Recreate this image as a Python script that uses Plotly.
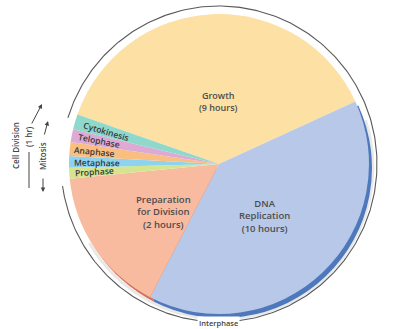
import numpy as np
import plotly.graph_objects as go

# ---- data ----
phases = ["Growth", "DNA Replication", "Preparation for Division",
          "Prophase", "Metaphase", "Anaphase", "Telophase", "Cytokinesis"]
label_text = ["Growth<br>(9 hours)", "DNA<br>Replication<br>(10 hours)",
              "Preparation<br>for Division<br>(2 hours)",
              "Prophase", "Metaphase", "Anaphase", "Telophase", "Cytokinesis"]
# apparent angular size of each slice as drawn (degrees)
slice_size = [136, 142, 57, 4.2, 4.5, 5.3, 5.0, 5.9]
slice_colors = ["#FDE0A3", "#B8C8E8", "#F8BBA0",
                "#D5E48E", "#8DD3F0", "#F9BF80", "#DDAAD6", "#8ED8CC"]
edge_colors = ["rgba(0,0,0,0)", "#4E78BC", "#D66E55",
               "rgba(0,0,0,0)", "rgba(0,0,0,0)", "rgba(0,0,0,0)",
               "rgba(0,0,0,0)", "rgba(0,0,0,0)"]

W, H = 394, 329
CX, CY, R = 219, 164, 150
START = 160.7  # math angle (deg) where the Growth slice begins


def px(x):
    return x / W


def py(y):
    return 1 - y / H


fig = go.Figure()

# outer ring (Interphase bracket) drawn on hidden pixel axes
RR = R + 8
t = np.radians(np.linspace(163, -172, 400))
fig.add_trace(go.Scatter(x=CX + RR * np.cos(t), y=CY - RR * np.sin(t), mode="lines",
                         line=dict(color="#5a5a5a", width=1.1), hoverinfo="skip",
                         showlegend=False))
t2 = np.radians(np.linspace(18, -150, 300))
fig.add_trace(go.Scatter(x=CX + 2 + (R + 2) * np.cos(t2), y=CY + 3 - (R + 2) * np.sin(t2),
                         mode="lines", line=dict(color="rgba(0,0,0,0.09)", width=3),
                         hoverinfo="skip", showlegend=False))

dom_main = dict(x=[px(CX - R), px(CX + R)], y=[py(CY + R), py(CY - R)])
dom_edge = dict(x=[px(CX - R + 3), px(CX + R + 3)], y=[py(CY + R + 4), py(CY - R + 4)])
for dom, cols in [(dom_edge, edge_colors), (dom_main, slice_colors)]:
    fig.add_trace(go.Pie(labels=phases, values=slice_size, sort=False,
                         direction="clockwise", rotation=90 - START, domain=dom,
                         marker=dict(colors=cols, line=dict(width=0)),
                         textinfo="none", hoverinfo="label", showlegend=False))

# label positions derived from the slice angles
total = sum(slice_size)
mids = []
a = START
for v in slice_size:
    span = v / total * 360
    mids.append(a - span / 2)
    a -= span

annotations = []
big_frac = [0.42, 0.46, 0.49]
big_nudge = [-2, -2, 7]
big_size = [9, 9.5, 9.5]
for i in range(3):
    ang = np.radians(mids[i] + big_nudge[i])
    x = CX + big_frac[i] * R * np.cos(ang)
    y = CY - big_frac[i] * R * np.sin(ang)
    annotations.append(dict(x=px(x), y=py(y), xref="paper", yref="paper",
                            xanchor="center", yanchor="middle",
                            text=label_text[i], showarrow=False,
                            font=dict(family="Open Sans", size=big_size[i], color="#4d4d4d",
                                      weight=600)))

for i in range(3, len(phases)):
    est_len = 5.3 * len(label_text[i])
    r_c = R - 4 - est_len / 2
    ang = np.radians(mids[i])
    x = CX + r_c * np.cos(ang)
    y = CY - r_c * np.sin(ang)
    annotations.append(dict(x=px(x), y=py(y), xref="paper", yref="paper",
                            xanchor="center", yanchor="middle",
                            text=label_text[i], showarrow=False, textangle=180 - mids[i],
                            font=dict(family="Open Sans", size=8.5, color="#363636",
                                      weight=600)))

side_font = dict(family="Open Sans", size=8, color="#444444", weight=600)
annotations += [
    dict(x=px(CX), y=py(CY + RR + 1), xref="paper", yref="paper", text="Interphase",
         xanchor="center", yanchor="middle",
         showarrow=False, bgcolor="white", borderpad=1,
         font=dict(family="Open Sans", size=7.5, color="#444444", weight=600)),
    dict(x=px(15), y=py(146), xref="paper", yref="paper", text="Cell Division",
         xanchor="center", yanchor="middle",
         showarrow=False, textangle=-90, font=side_font),
    dict(x=px(29), y=py(137), xref="paper", yref="paper", text="(1 hr)",
         xanchor="center", yanchor="middle",
         showarrow=False, textangle=-90, font=side_font),
    dict(x=px(43), y=py(156), xref="paper", yref="paper", text="Mitosis",
         xanchor="center", yanchor="middle",
         showarrow=False, textangle=-90, font=side_font),
    # bracket arrows
    dict(x=px(42), y=py(104), xref="paper", yref="paper", text="", showarrow=True,
         ax=-11, ay=21, arrowhead=2, arrowsize=0.9, arrowwidth=1, arrowcolor="#444"),
    dict(x=px(48), y=py(121), xref="paper", yref="paper", text="", showarrow=True,
         ax=-4, ay=15, arrowhead=2, arrowsize=0.9, arrowwidth=1, arrowcolor="#444"),
    dict(x=px(43), y=py(192), xref="paper", yref="paper", text="", showarrow=True,
         ax=0, ay=-15, arrowhead=2, arrowsize=0.9, arrowwidth=1, arrowcolor="#444"),
]

shapes = [
    dict(type="line", xref="paper", yref="paper", x0=px(29), x1=px(29),
         y0=py(152), y1=py(188), line=dict(color="#444", width=1)),
]

fig.update_layout(
    width=W, height=H, margin=dict(l=0, r=0, t=0, b=0),
    paper_bgcolor="white", plot_bgcolor="white",
    xaxis=dict(visible=False, range=[0, W], fixedrange=True, domain=[0, 1]),
    yaxis=dict(visible=False, range=[H, 0], fixedrange=True, domain=[0, 1]),
    annotations=annotations, shapes=shapes, showlegend=False,
)

fig.write_html("out.html")
